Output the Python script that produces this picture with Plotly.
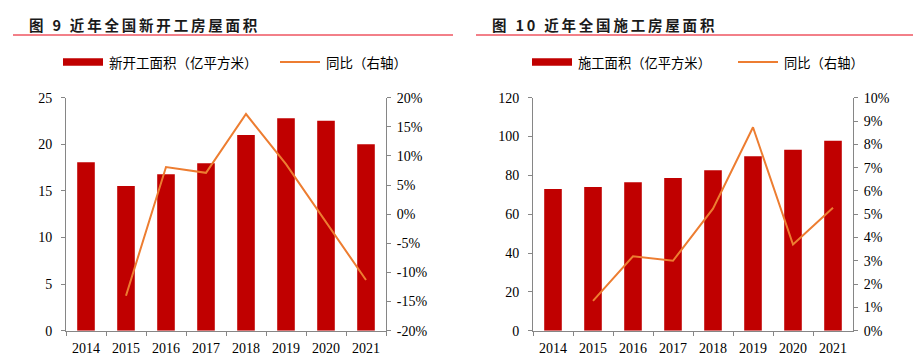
import plotly.graph_objects as go

W, H = 913, 357

years = ["2014", "2015", "2016", "2017", "2018", "2019", "2020", "2021"]

# Figure 9: new construction starts area (100 million m2) and YoY (%)
new_start_area = [18.07, 15.52, 16.78, 17.96, 21.0, 22.79, 22.54, 20.0]
new_start_yoy = [None, -14.0, 8.1, 7.1, 17.2, 8.6, -1.4, -11.3]

# Figure 10: under-construction area (100 million m2) and YoY (%)
construct_area = [73.0, 74.0, 76.4, 78.7, 82.6, 89.8, 93.2, 97.8]
construct_yoy = [None, 1.28, 3.19, 3.0, 5.24, 8.73, 3.7, 5.28]

left_ticks = [0, 5, 10, 15, 20, 25]
left_pct_ticks = [-20, -15, -10, -5, 0, 5, 10, 15, 20]
right_ticks = [0, 20, 40, 60, 80, 100, 120]
right_pct_ticks = list(range(0, 11))

BAR = "#C00000"
LINE = "#ED7D31"
AX = "#868686"
TICKFONT = dict(family="Liberation Serif", size=14, color="#000000")
CJK = "Noto Sans CJK SC"


def px(x):
    return x / W


def py(y):
    return 1 - y / H


fig = go.Figure()

fig.add_trace(go.Bar(x=years, y=new_start_area, marker=dict(color=BAR, line=dict(width=0)),
                     xaxis="x", yaxis="y", showlegend=False, name="新开工面积（亿平方米）"))
fig.add_trace(go.Scatter(x=years, y=new_start_yoy, mode="lines", line=dict(color=LINE, width=2),
                         xaxis="x", yaxis="y2", showlegend=False, name="同比（右轴）"))
fig.add_trace(go.Bar(x=years, y=construct_area, marker=dict(color=BAR, line=dict(width=0)),
                     xaxis="x2", yaxis="y3", showlegend=False, name="施工面积（亿平方米）"))
fig.add_trace(go.Scatter(x=years, y=construct_yoy, mode="lines", line=dict(color=LINE, width=2),
                         xaxis="x2", yaxis="y4", showlegend=False, name="同比（右轴）"))

ydom = [py(330.7), py(97.7)]
common_x = dict(type="category", showline=True, linecolor=AX, linewidth=1, ticks="outside",
                ticklen=4, tickcolor=AX, tickson="boundaries", tickfont=TICKFONT,
                showgrid=False, zeroline=False, automargin=False, ticklabelstandoff=4)
common_y = dict(showline=True, linecolor=AX, linewidth=1, ticks="outside", ticklen=4,
                tickcolor=AX, tickfont=TICKFONT, showgrid=False, zeroline=False,
                automargin=False)

fig.update_layout(
    width=W, height=H, margin=dict(l=0, r=0, t=0, b=0, pad=0), autosize=False,
    paper_bgcolor="white", plot_bgcolor="white",
    bargap=0.56, showlegend=False,
    xaxis=dict(domain=[px(66), px(386)], anchor="y", **common_x),
    yaxis=dict(domain=ydom, anchor="x", range=[0, 25], tickvals=left_ticks,
               ticklabelstandoff=6, **common_y),
    yaxis2=dict(overlaying="y", side="right", anchor="x", range=[-20, 20],
                tickvals=left_pct_ticks, ticktext=[f"{v}%" for v in left_pct_ticks],
                ticklabelstandoff=3, **common_y),
    xaxis2=dict(domain=[px(533), px(853)], anchor="y3", **common_x),
    yaxis3=dict(domain=ydom, anchor="x2", range=[0, 120], tickvals=right_ticks,
                ticklabelstandoff=6, **common_y),
    yaxis4=dict(overlaying="y3", side="right", anchor="x2", range=[0, 10],
                tickvals=right_pct_ticks, ticktext=[f"{v}%" for v in right_pct_ticks],
                ticklabelstandoff=3, **common_y),
)

# Titles
titles = [("图 9 近年全国新开工房屋面积", 27), ("图 10 近年全国施工房屋面积", 490)]
for txt, x in titles:
    fig.add_annotation(x=px(x), y=py(25), xref="paper", yref="paper", xanchor="left",
                       yanchor="middle", showarrow=False,
                       text=f'<b><span style="letter-spacing:2.8px">{txt}</span></b>',
                       font=dict(family=CJK, size=14.5, color="#1a1a1a"))

# Red separator lines under titles
for x0, x1 in [(13, 453), (476, 913)]:
    fig.add_shape(type="line", xref="paper", yref="paper", x0=px(x0), x1=px(x1),
                  y0=py(35), y1=py(35), line=dict(color="#E60012", width=1))

# Legends
legends = [
    (63, "新开工面积（亿平方米）", 280, 13.5),
    (532, "施工面积（亿平方米）", 738, 13.3),
]
for rx, label, lx, fs in legends:
    fig.add_shape(type="rect", xref="paper", yref="paper", x0=px(rx), x1=px(rx + 40),
                  y0=py(65.7), y1=py(58.3), fillcolor=BAR, line=dict(width=0))
    fig.add_annotation(x=px(rx + 44), y=py(62), xref="paper", yref="paper", xanchor="left",
                       yanchor="middle", showarrow=False, text=label,
                       font=dict(family=CJK, size=fs, color="#000000"))
    fig.add_shape(type="line", xref="paper", yref="paper", x0=px(lx), x1=px(lx + 40),
                  y0=py(62), y1=py(62), line=dict(color=LINE, width=2))
    fig.add_annotation(x=px(lx + 44), y=py(62), xref="paper", yref="paper", xanchor="left",
                       yanchor="middle", showarrow=False, text="同比（右轴）",
                       font=dict(family=CJK, size=fs, color="#000000"))

fig.write_html("out.html", config={"responsive": False, "displayModeBar": False},
               post_script="document.body.style.margin='0';document.body.style.padding='0';")
